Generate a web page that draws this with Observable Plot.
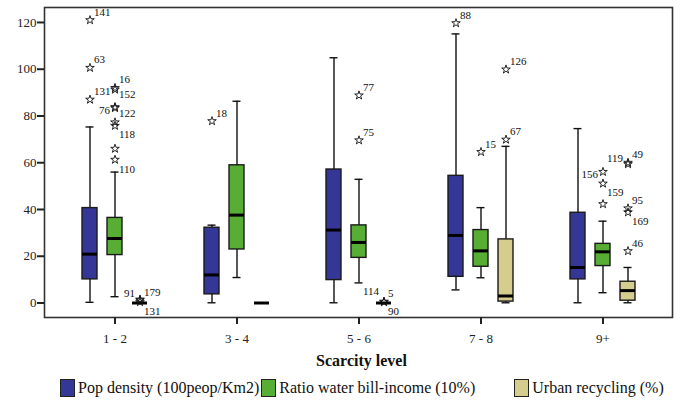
<!DOCTYPE html>
<html><head><meta charset="utf-8">
<script src="https://cdn.jsdelivr.net/npm/d3@7"></script>
<script src="https://cdn.jsdelivr.net/npm/@observablehq/plot@0.6"></script>
<style>
body{margin:0;background:#fff;font-family:"Liberation Serif",serif;}
#legend{display:flex;align-items:center;height:32px;padding-left:60px;font-size:16px;color:#111;}
#legend .item{display:flex;align-items:center;white-space:nowrap;}
#legend .sw{width:13px;height:16px;border:1.5px solid #222;margin-right:3px;}
</style></head><body>
<div id="chart"></div>
<div id="legend"></div>
<script>
// ---- data ----
const levels = ["1 - 2", "3 - 4", "5 - 6", "7 - 8", "9+"];
const seriesNames = ["Pop density (100peop/Km2)", "Ratio water bill-income (10%)", "Urban recycling (%)"];
const seriesColors = ["#343796", "#58ad34", "#d4cd8e"];
const yTicks = [0, 20, 40, 60, 80, 100, 120];

// [min, q1, median, q3, max] per level
const popStats = [
  [0.3, 10.1, 20.9, 40.6, 75.3],
  [0.1, 3.7, 12.0, 32.2, 33.3],
  [0.1, 9.8, 31.2, 57.1, 104.9],
  [5.6, 11.2, 28.9, 54.4, 115.1],
  [0.1, 10.1, 15.2, 38.6, 74.6]
];
const ratioStats = [
  [2.7, 20.5, 27.6, 36.4, 56.0],
  [10.9, 22.9, 37.6, 58.9, 86.3],
  [8.6, 19.3, 25.9, 33.2, 52.9],
  [10.8, 15.5, 22.3, 31.2, 40.8],
  [4.4, 15.8, 21.9, 25.3, 35.0]
];
const urbanStats = [
  [0, 0, 0, 0, 0],
  [0, 0, 0, 0, 0],
  [0, 0, 0, 0, 0],
  [0.1, 0.6, 3.0, 27.2, 67.0],
  [0.1, 1.0, 5.3, 9.1, 15.2]
];

// extreme values: [level, value, case label]
const popOutliers = [
  ["1 - 2", 121.0, "141"], ["1 - 2", 100.6, "63"], ["1 - 2", 87.0, "131"],
  ["3 - 4", 77.8, "18"], ["7 - 8", 119.7, "88"]
];
const ratioOutliers = [
  ["1 - 2", 92.0, "16"], ["1 - 2", 91.3, "152"], ["1 - 2", 83.8, "76"], ["1 - 2", 83.4, "122"],
  ["1 - 2", 77.3, ""], ["1 - 2", 75.8, "118"], ["1 - 2", 66.0, ""], ["1 - 2", 61.3, ""],
  ["5 - 6", 88.8, "77"], ["5 - 6", 69.6, "75"],
  ["7 - 8", 64.6, "15"],
  ["9+", 56.1, "156"], ["9+", 51.1, "159"], ["9+", 42.3, ""]
];
const urbanOutliers = [
  ["1 - 2", 1.5, "91"], ["1 - 2", 1.2, "179"], ["1 - 2", 0.4, "131"],
  ["5 - 6", 0.6, "5"], ["5 - 6", 0.4, "90"],
  ["7 - 8", 99.9, "126"], ["7 - 8", 69.9, "67"],
  ["9+", 60.0, "49"], ["9+", 59.4, "119"], ["9+", 40.5, "95"], ["9+", 38.8, "169"], ["9+", 22.2, "46"]
];
// case labels that sit on a whisker end
const ratioCapLabels = [["1 - 2", 56.0, "110"], ["5 - 6", 8.6, "114"]];

// ---- layout helpers (styling only) ----
const seriesDx = [-25, 0, 25];
const labelSides = {
  "0:141": "ne", "0:63": "ne", "0:131": "ne", "0:18": "ne", "0:88": "ne",
  "1:16": "ne", "1:152": "e", "1:76": "w", "1:122": "e", "1:118": "se", "1:77": "ne", "1:75": "ne",
  "1:15": "ne", "1:156": "w", "1:159": "se", "1:110": "cap", "1:114": "se",
  "2:91": "nw", "2:179": "ne", "2:131": "se", "2:5": "ne", "2:90": "se", "2:126": "ne", "2:67": "ne",
  "2:49": "ne", "2:119": "nw", "2:95": "ne", "2:169": "se", "2:46": "ne"
};
const sideStyle = {
  ne: {dx: 4, dy: -8, textAnchor: "start"},
  e: {dx: 4, dy: 5, textAnchor: "start"},
  se: {dx: 4, dy: 9, textAnchor: "start"},
  w: {dx: -5, dy: 3, textAnchor: "end"},
  nw: {dx: -5, dy: -6, textAnchor: "end"},
  cap: {dx: 4, dy: -3, textAnchor: "start"}
};
const serif = "'Liberation Serif', serif";

const allStats = [popStats, ratioStats, urbanStats];
const allOutliers = [popOutliers, ratioOutliers, urbanOutliers];
const allCapLabels = [[], ratioCapLabels, []];

const marks = [Plot.frame({stroke: "#333", strokeWidth: 1.6})];

allStats.forEach((stats, s) => {
  const dx = seriesDx[s];
  const rows = stats.map((d, j) => ({level: levels[j], min: d[0], q1: d[1], med: d[2], q3: d[3], max: d[4]}));
  marks.push(
    Plot.ruleX(rows, {x: "level", y1: "min", y2: "max", dx, stroke: "#111", strokeWidth: 1.4}),
    Plot.tickY(rows, {x: "level", y: "min", dx, insetLeft: 3.5, insetRight: 3.5, stroke: "#111", strokeWidth: 1.4}),
    Plot.tickY(rows, {x: "level", y: "max", dx, insetLeft: 3.5, insetRight: 3.5, stroke: "#111", strokeWidth: 1.4}),
    Plot.barY(rows, {x: "level", y1: "q1", y2: "q3", dx, fill: seriesColors[s], stroke: "#1a1a1a", strokeWidth: 1.4}),
    Plot.tickY(rows, {x: "level", y: "med", dx, stroke: "#000", strokeWidth: 3})
  );
  const outs = allOutliers[s].map(d => ({level: d[0], value: d[1], label: d[2]}));
  marks.push(Plot.dot(outs, {x: "level", y: "value", dx, symbol: "star", r: 2.7, fill: "none", stroke: "#111", strokeWidth: 0.9}));
  const labeled = outs.concat(allCapLabels[s].map(d => ({level: d[0], value: d[1], label: d[2]}))).filter(d => d.label);
  Object.entries(sideStyle).forEach(([side, st]) => {
    const sub = labeled.filter(d => labelSides[s + ":" + d.label] === side);
    if (sub.length) marks.push(Plot.text(sub, {x: "level", y: "value", text: "label", dx: dx + st.dx, dy: st.dy,
      textAnchor: st.textAnchor, fontSize: 11, fontFamily: serif, fill: "#111"}));
  });
});

marks.push(
  Plot.axisY({ticks: yTicks, tickSize: 7, tickPadding: 1, label: null, strokeWidth: 2, fontSize: 13, fontFamily: serif, fill: "#222"}),
  Plot.axisX({tickSize: 7, tickPadding: 9, label: null, strokeWidth: 2, fontSize: 13, fontFamily: serif, fill: "#222"}),
  Plot.text(["Scarcity level"], {frameAnchor: "bottom", dy: 48, dx: 3, fontWeight: "bold", fontSize: 16, fontFamily: serif, fill: "#111"})
);

const chart = Plot.plot({
  width: 680,
  height: 372,
  marginLeft: 44,
  marginRight: 8,
  marginTop: 7,
  marginBottom: 55,
  style: {fontFamily: serif, fontSize: "13px", background: "#fff", color: "#222"},
  x: {type: "band", domain: levels, paddingInner: 0.878, paddingOuter: 0.5, axis: null},
  y: {domain: [-6.2, 126.4], axis: null},
  marks
});
document.getElementById("chart").appendChild(chart);

const legend = document.getElementById("legend");
const gaps = [0, 2, 39];
seriesNames.forEach((name, i) => {
  const item = document.createElement("div");
  item.className = "item";
  item.style.marginLeft = gaps[i] + "px";
  const sw = document.createElement("div");
  sw.className = "sw";
  sw.style.background = seriesColors[i];
  const t = document.createElement("span");
  t.textContent = name;
  item.appendChild(sw);
  item.appendChild(t);
  legend.appendChild(item);
});
</script>
</body></html>
